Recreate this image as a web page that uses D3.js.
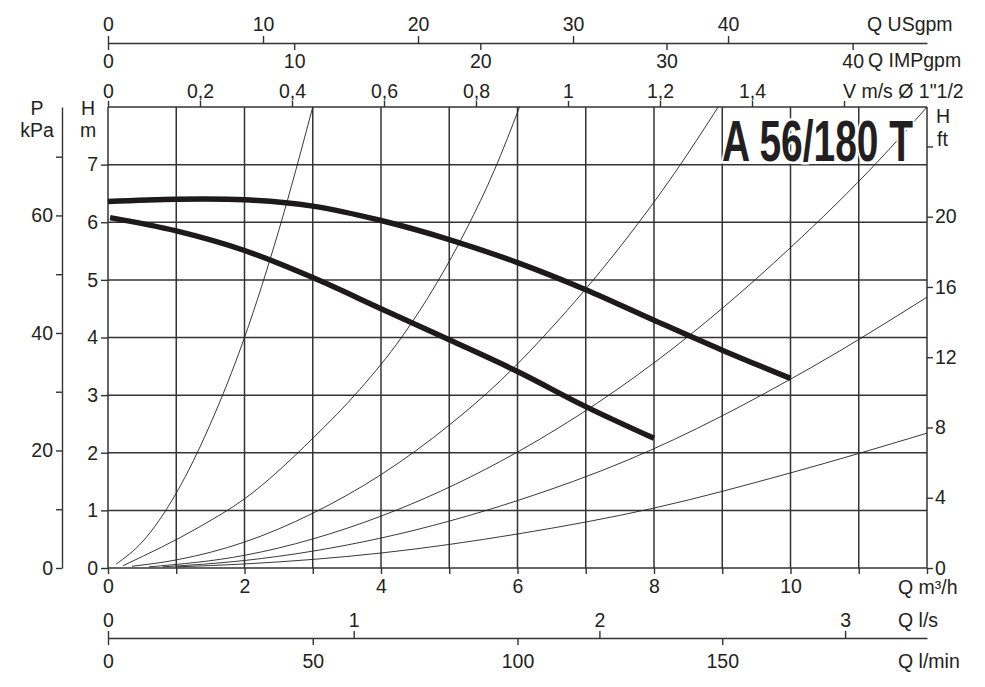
<!DOCTYPE html>
<html>
<head>
<meta charset="utf-8">
<script src="https://cdn.jsdelivr.net/npm/d3@7"></script>
<style>
  body { margin: 0; background: #fff; }
  text { font-family: "Liberation Sans", Arial, sans-serif; fill: #231f20; }
  .axis text { font-size: 19.5px; }
  .axis line, .axis path { stroke: #333; stroke-width: 1.4; }
</style>
</head>
<body>
<div id="viz"></div>
<script>
// ---- chart data ----
const qGrid = [0, 1, 2, 3, 4, 5, 6, 7, 8, 9, 10, 11, 12];     // m3/h
const qLabels = [0, 2, 4, 6, 8, 10];
const hGrid = [0, 1, 2, 3, 4, 5, 6, 7, 8];                    // m
const hLabels = [0, 1, 2, 3, 4, 5, 6, 7];
const kpaTicks = [0, 10, 20, 30, 40, 50, 60, 70];
const kpaLabels = [0, 20, 40, 60];
const ftTicks = [0, 4, 8, 12, 16, 20, 24];
const ftLabels = [0, 4, 8, 12, 16, 20];
const usgpmTicks = [0, 10, 20, 30, 40];
const impgpmTicks = [0, 10, 20, 30, 40];
const velTicks = [0, 0.2, 0.4, 0.6, 0.8, 1, 1.2, 1.4, 1.6];
const velLabels = [0, 0.2, 0.4, 0.6, 0.8, 1, 1.2, 1.4];
const lsTicks = [0, 1, 2, 3];
const lminTicks = [0, 50, 100, 150];

// pump curves [Q m3/h, H m]
const pumpMax = [[0, 6.36], [1, 6.4], [2, 6.39], [3, 6.28], [4, 6.03], [5, 5.7],
                 [6, 5.3], [7, 4.83], [8, 4.3], [9, 3.78], [10, 3.29]];
const pumpMin = [[0.03, 6.08], [1, 5.85], [2, 5.51], [3, 5.04], [4, 4.5], [5, 3.96],
                 [6, 3.41], [7, 2.8], [8, 2.25]];

// system curves [Q m3/h, H m]
const sysA = [[0.12, 0.07], [0.5, 0.45], [1, 1.3], [1.5, 2.5], [2, 4.0], [2.5, 5.85], [3, 8]];
const sysB = [[0.22, 0.04], [1.35, 0.72], [2, 1.2], [3, 2.25], [3.69, 3.1], [4.3, 4],
              [4.82, 4.95], [5.26, 5.9], [5.66, 6.9], [6.03, 8]];
const sysC = [[0.35, 0.03], [1, 0.14], [2, 0.45], [3, 0.95], [4, 1.62], [5, 2.48],
              [5.75, 3.25], [6.6, 4.3], [7.58, 5.69], [8.3, 6.85], [8.94, 8]];
const sysD = [[0.6, 0.02], [2, 0.22], [4, 0.9], [5.75, 1.85], [8, 3.56], [10, 5.56],
              [11.3, 7.08], [12, 8]];
const sysE = [[0.8, 0.02], [2, 0.13], [4, 0.52], [6, 1.17], [7.62, 1.875], [10.29, 3.47],
              [12, 4.7]];
const sysF = [[1.0, 0.02], [2, 0.07], [4, 0.26], [6, 0.59], [8, 1.04], [10, 1.65],
              [12, 2.34]];
const systemCurves = [sysA, sysB, sysC, sysD, sysE, sysF];

// unit conversions to m3/h and m
const USGPM = 0.227125, IMPGPM = 0.272765, LPS = 3.6, LPM = 0.06, VEL = 6.74;
const KPA = 0.10197, FT = 0.3048;

const width = 985, height = 687;
const plotLeft = 108, plotRight = 927, plotTop = 107, plotBottom = 568;
const qMax = 12, hMax = 8;

const svg = d3.select("#viz").append("svg")
  .attr("width", width).attr("height", height);

const x = d3.scaleLinear().domain([0, qMax]).range([plotLeft, plotRight]);
const y = d3.scaleLinear().domain([0, hMax]).range([plotBottom, plotTop]);

const comma = d3.formatLocale({decimal: ",", thousands: ".", grouping: [3], currency: ["", ""]}).format("~g");

// grid
const grid = svg.append("g").attr("stroke", "#333").attr("stroke-width", 1.5);
grid.selectAll(".v").data(qGrid).join("line").attr("class", "v")
  .attr("x1", d => x(d)).attr("x2", d => x(d)).attr("y1", plotTop).attr("y2", plotBottom);
grid.selectAll(".h").data(hGrid).join("line").attr("class", "h")
  .attr("y1", d => y(d)).attr("y2", d => y(d)).attr("x1", plotLeft).attr("x2", plotRight);

// system curves
svg.append("clipPath").attr("id", "plot")
  .append("rect").attr("x", plotLeft).attr("y", plotTop)
  .attr("width", plotRight - plotLeft).attr("height", plotBottom - plotTop);
const sysLine = d3.line().x(d => x(d[0])).y(d => y(d[1])).curve(d3.curveMonotoneX);
svg.append("g").attr("clip-path", "url(#plot)")
  .selectAll("path").data(systemCurves).join("path")
  .attr("d", sysLine).attr("fill", "none").attr("stroke", "#222").attr("stroke-width", 0.9);

// pump curves
const pumpLine = d3.line().x(d => x(d[0])).y(d => y(d[1])).curve(d3.curveCatmullRom);
svg.append("g").selectAll("path").data([pumpMax, pumpMin]).join("path")
  .attr("d", pumpLine).attr("fill", "none").attr("stroke", "#1c1a1a").attr("stroke-width", 5.5);

// title
svg.append("text")
  .attr("x", 722).attr("y", 161)
  .attr("textLength", 191).attr("lengthAdjust", "spacingAndGlyphs")
  .style("font-family", '"Liberation Sans Narrow", "Liberation Sans", Arial, sans-serif')
  .style("font-weight", "bold").style("font-size", "58px")
  .style("stroke", "#fff").style("stroke-width", 5).style("paint-order", "stroke")
  .style("fill", "#231f20")
  .text("A 56/180 T");

// axes
function addAxis(axis, tx, ty, keepDomain) {
  const g = svg.append("g").attr("class", "axis")
    .attr("transform", `translate(${tx},${ty})`).call(axis);
  g.selectAll("text").style("fill", "#231f20");
  if (!keepDomain) g.select(".domain").remove();
  return g;
}
const plain = d => d;

// top flow axes
const xUS = d3.scaleLinear().domain([0, qMax / USGPM]).range([plotLeft, plotRight]);
const xIMP = d3.scaleLinear().domain([0, qMax / IMPGPM]).range([plotLeft, plotRight]);
const xVel = d3.scaleLinear().domain([0, qMax / VEL]).range([plotLeft, plotRight]);
addAxis(d3.axisTop(xUS).tickValues(usgpmTicks).tickFormat(plain)
  .tickSize(7).tickSizeOuter(0).tickPadding(5), 0, 43, true);
addAxis(d3.axisBottom(xIMP).tickValues(impgpmTicks).tickFormat(plain)
  .tickSize(7).tickPadding(4), 0, 43, false);
addAxis(d3.axisTop(xVel).tickValues(velTicks).tickSize(6).tickPadding(3)
  .tickFormat(d => velLabels.includes(d) ? comma(d) : ""), 0, plotTop, false);

// bottom flow axes
const xLs = d3.scaleLinear().domain([0, qMax / LPS]).range([plotLeft, plotRight]);
const xLmin = d3.scaleLinear().domain([0, qMax / LPM]).range([plotLeft, plotRight]);
addAxis(d3.axisBottom(x).tickValues(qGrid).tickSize(6).tickPadding(5)
  .tickFormat(d => qLabels.includes(d) ? d : ""), 0, plotBottom, false);
addAxis(d3.axisTop(xLs).tickValues(lsTicks).tickFormat(plain)
  .tickSize(7).tickSizeOuter(0).tickPadding(4), 0, 638, true);
addAxis(d3.axisBottom(xLmin).tickValues(lminTicks).tickFormat(plain)
  .tickSize(7).tickPadding(9), 0, 638, false);

// head / pressure axes
const yKpa = d3.scaleLinear().domain([0, hMax / KPA]).range([plotBottom, plotTop]);
const yFt = d3.scaleLinear().domain([0, hMax / FT]).range([plotBottom, plotTop]);
addAxis(d3.axisLeft(y).tickValues(hLabels).tickFormat(plain).tickSize(7).tickPadding(3), plotLeft, 0, false);
addAxis(d3.axisLeft(yKpa).tickValues(kpaTicks).tickSize(6).tickSizeOuter(0).tickPadding(3)
  .tickFormat(d => kpaLabels.includes(d) ? d : ""), 62, 0, true);
addAxis(d3.axisRight(yFt).tickValues(ftTicks).tickSize(6).tickPadding(2)
  .tickFormat(d => ftLabels.includes(d) ? d : ""), plotRight, 0, false);

// unit labels
const units = [
  {t: "Q USgpm", x: 867, y: 31, a: "start"},
  {t: "Q IMPgpm", x: 868, y: 67, a: "start"},
  {t: "V m/s Ø 1\"1/2", x: 843, y: 98, a: "start"},
  {t: "P", x: 37, y: 115, a: "middle"},
  {t: "kPa", x: 37, y: 137, a: "middle"},
  {t: "H", x: 88, y: 115, a: "middle"},
  {t: "m", x: 88, y: 137, a: "middle"},
  {t: "H", x: 936, y: 123, a: "start"},
  {t: "ft", x: 937, y: 146, a: "start"},
  {t: "Q m³/h", x: 898, y: 594, a: "start"},
  {t: "Q l/s", x: 898, y: 627, a: "start"},
  {t: "Q l/min", x: 898, y: 668, a: "start"}
];
svg.append("g").selectAll("text").data(units).join("text")
  .attr("x", d => d.x).attr("y", d => d.y).attr("text-anchor", d => d.a)
  .style("font-size", "19.5px").text(d => d.t);
</script>
</body>
</html>
